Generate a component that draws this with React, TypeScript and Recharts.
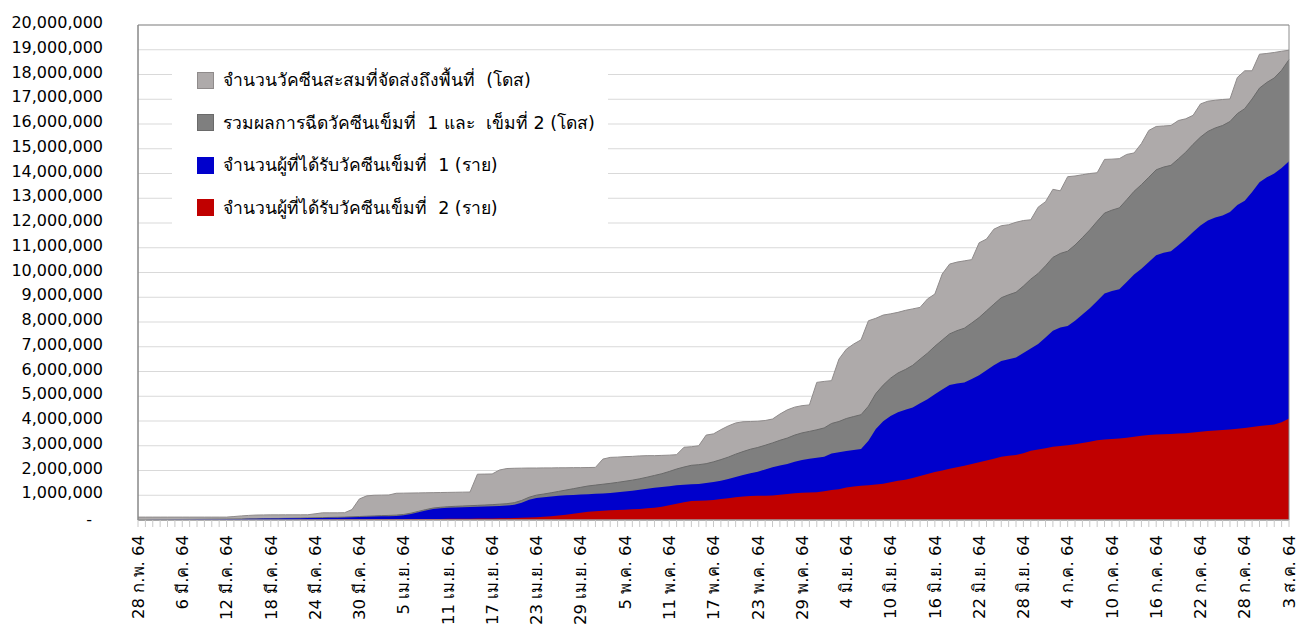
import { AreaChart, Area, XAxis, YAxis, CartesianGrid, Legend, ReferenceArea } from 'recharts'

// วันที่ 28 ก.พ. 64 ถึง 3 ส.ค. 64 (รายวัน)
const months = [
  { name: 'ก.พ.', first: 28, last: 28 },
  { name: 'มี.ค.', first: 1, last: 31 },
  { name: 'เม.ย.', first: 1, last: 30 },
  { name: 'พ.ค.', first: 1, last: 31 },
  { name: 'มิ.ย.', first: 1, last: 30 },
  { name: 'ก.ค.', first: 1, last: 31 },
  { name: 'ส.ค.', first: 1, last: 3 },
]

const dates: string[] = []
months.forEach((m) => {
  for (let d = m.first; d <= m.last; d++) dates.push(`${d} ${m.name} 64`)
})

// ค่าทั้งหมดเป็นหลักพัน (x 1,000)
const deliveredK = [
  117, 117, 117, 117, 117, 117, 117, 117, 117, 117,
  117, 117, 117, 140, 165, 185, 200, 205, 208, 208,
  210, 210, 210, 212, 250, 290, 290, 290, 295, 420,
  850, 975, 1000, 1005, 1010, 1080, 1085, 1090, 1095, 1100,
  1105, 1110, 1115, 1120, 1125, 1130, 1850, 1855, 1860, 2020,
  2080, 2090, 2095, 2100, 2100, 2105, 2105, 2110, 2110, 2115,
  2115, 2120, 2125, 2460, 2530, 2540, 2560, 2570, 2590, 2600,
  2600, 2610, 2620, 2640, 2940, 2960, 3000, 3430, 3480, 3650,
  3800, 3920, 3970, 3980, 3990, 4020, 4080, 4280, 4450, 4560,
  4620, 4650, 5560, 5600, 5630, 6500, 6900, 7110, 7280, 8050,
  8150, 8280, 8330, 8390, 8470, 8530, 8590, 8930, 9130, 9940,
  10340, 10420, 10470, 10520, 11200, 11350, 11750, 11890, 11930, 12030,
  12100, 12130, 12640, 12860, 13360, 13300, 13870, 13900, 13950, 14000,
  14030, 14570, 14580, 14600, 14770, 14830, 15210, 15740, 15900, 15920,
  15940, 16140, 16210, 16350, 16810, 16920, 16960, 16990, 17010, 17880,
  18150, 18150, 18820, 18850, 18890, 18940, 18980,
]

const totalK = [
  1, 3, 6, 10, 14, 18, 22, 25, 27, 30,
  33, 35, 37, 40, 44, 48, 52, 56, 60, 63,
  68, 73, 78, 84, 90, 97, 104, 111, 118, 130,
  142, 154, 166, 178, 185, 197, 224, 276, 348, 420,
  482, 514, 536, 553, 565, 578, 591, 605, 620, 640,
  660, 700, 790, 920, 1005, 1050, 1100, 1155, 1210, 1265,
  1320, 1375, 1410, 1445, 1480, 1520, 1565, 1610, 1665, 1730,
  1800, 1870, 1960, 2060, 2140, 2210, 2235, 2275, 2350, 2440,
  2540, 2660, 2765, 2860, 2930, 3020, 3115, 3220, 3310, 3430,
  3520, 3580, 3645, 3720, 3900, 3980, 4100, 4180, 4255, 4600,
  5110, 5450, 5730, 5940, 6080, 6250, 6500, 6740, 7020, 7270,
  7520, 7650, 7750, 7960, 8180, 8450, 8720, 8980, 9100, 9200,
  9450, 9730, 9960, 10270, 10610, 10770, 10860, 11110, 11410, 11720,
  12070, 12400, 12520, 12610, 12940, 13280, 13550, 13850, 14150, 14260,
  14330, 14590, 14860, 15180, 15470, 15700, 15840, 15940, 16100, 16420,
  16620, 17010, 17450, 17680, 17860, 18170, 18600,
]

const dose1K = [
  1, 3, 6, 10, 14, 18, 22, 25, 27, 30,
  33, 35, 37, 40, 44, 48, 52, 56, 60, 63,
  66, 69, 72, 76, 80, 85, 90, 95, 100, 110,
  120, 130, 140, 150, 155, 165, 190, 240, 310, 380,
  440, 470, 490, 505, 515, 525, 535, 545, 555, 570,
  585, 620, 700, 820, 890, 920, 950, 975, 995, 1015,
  1030, 1045, 1060, 1075, 1090, 1120, 1150, 1180, 1220, 1260,
  1300, 1330, 1360, 1400, 1420, 1440, 1455, 1490, 1540, 1590,
  1660, 1740, 1820, 1890, 1950, 2040, 2130, 2200, 2260, 2350,
  2420, 2470, 2520, 2560, 2690, 2740, 2790, 2830, 2870, 3200,
  3680, 3990, 4200, 4350, 4450, 4550, 4720, 4880, 5080, 5270,
  5450, 5520, 5560, 5700, 5850, 6050, 6250, 6420, 6500, 6570,
  6750, 6930, 7110, 7370, 7650, 7780, 7840, 8050, 8300, 8560,
  8850, 9150, 9250, 9320, 9620, 9920, 10150, 10420, 10700, 10800,
  10860, 11100, 11350, 11640, 11900, 12100, 12220, 12300, 12440, 12730,
  12900, 13250, 13650, 13850, 14000, 14220, 14500,
]

const dose2K = [
  0, 0, 0, 0, 0, 0, 0, 0, 0, 0,
  0, 0, 0, 0, 0, 0, 0, 0, 0, 0,
  2, 4, 6, 8, 10, 12, 14, 16, 18, 20,
  22, 24, 26, 28, 30, 32, 34, 36, 38, 40,
  42, 44, 46, 48, 50, 53, 56, 60, 65, 70,
  75, 80, 90, 100, 115, 130, 150, 180, 215, 250,
  290, 330, 350, 370, 390, 400, 415, 430, 445, 470,
  500, 540, 600, 660, 720, 770, 780, 785, 810, 850,
  880, 920, 945, 970, 980, 980, 985, 1020, 1050, 1080,
  1100, 1110, 1125, 1160, 1210, 1240, 1310, 1350, 1385, 1400,
  1430, 1460, 1530, 1590, 1630, 1700, 1780, 1860, 1940, 2000,
  2070, 2130, 2190, 2260, 2330, 2400, 2470, 2560, 2600, 2630,
  2700, 2800, 2850, 2900, 2960, 2990, 3020, 3060, 3110, 3160,
  3220, 3250, 3270, 3290, 3320, 3360, 3400, 3430, 3450, 3460,
  3470, 3490, 3510, 3540, 3570, 3600, 3620, 3640, 3660, 3690,
  3720, 3760, 3800, 3830, 3860, 3950, 4100,
]

const yTicks = [
  0, 1000000, 2000000, 3000000, 4000000, 5000000, 6000000, 7000000,
  8000000, 9000000, 10000000, 11000000, 12000000, 13000000, 14000000,
  15000000, 16000000, 17000000, 18000000, 19000000, 20000000,
]

const series = [
  { key: 'delivered', name: 'จำนวนวัคซีนสะสมที่จัดส่งถึงพื้นที่  (โดส)', fill: '#AEAAAA', stroke: '#8F8B8B' },
  { key: 'total', name: 'รวมผลการฉีดวัคซีนเข็มที่  1 และ  เข็มที่ 2 (โดส)', fill: '#7F7F7F', stroke: '#6A6A6A' },
  { key: 'dose1', name: 'จำนวนผู้ที่ได้รับวัคซีนเข็มที่  1 (ราย)', fill: '#0000CC', stroke: 'none' },
  { key: 'dose2', name: 'จำนวนผู้ที่ได้รับวัคซีนเข็มที่  2 (ราย)', fill: '#C00000', stroke: 'none' },
]

const data = dates.map((date, i) => ({
  date,
  delivered: deliveredK[i] * 1000,
  total: totalK[i] * 1000,
  dose1: dose1K[i] * 1000,
  dose2: dose2K[i] * 1000,
}))

const FONT = "'DejaVu Sans', Tahoma, sans-serif"

// ป้ายวันที่แนวตั้ง ทุก 6 วัน
function DateTick(props: any) {
  const { x, y, payload, index } = props
  if (index % 6 !== 0) return null
  return (
    <text
      x={x}
      y={y}
      dy="0.35em"
      textAnchor="end"
      transform={`rotate(-90 ${x} ${y})`}
      fontSize={16.5}
      fill="#000"
      fontFamily={FONT}
    >
      {payload.value}
    </text>
  )
}

function ValueTick(props: any) {
  const { x, y, payload } = props
  const zero = payload.value === 0
  return (
    <text
      x={x}
      y={y}
      dx={zero ? -11 : 0}
      dy={zero ? 5 : 3}
      textAnchor="end"
      fontSize={16}
      fill="#000"
      fontFamily={FONT}
    >
      {zero ? '-' : payload.value.toLocaleString('en-US')}
    </text>
  )
}

function LegendBox() {
  return (
    <div
      style={{
        width: 436,
        height: 174,
        background: '#fff',
        paddingTop: 3,
        boxSizing: 'border-box',
        fontFamily: FONT,
      }}
    >
      {series.map((s) => (
        <div key={s.key} style={{ display: 'flex', alignItems: 'center', height: 42.5, paddingLeft: 25 }}>
          <span
            style={{
              width: 15,
              height: 15,
              background: s.fill,
              border: `1px solid ${s.stroke === 'none' ? s.fill : s.stroke}`,
              flex: 'none',
            }}
          />
          <span style={{ marginLeft: 9, fontSize: 17.5, color: '#000', whiteSpace: 'pre' }}>{s.name}</span>
        </div>
      ))}
    </div>
  )
}

export default function App() {
  return (
    <div style={{ position: 'absolute', left: 0, top: 0, width: 1304, height: 628, background: '#fff', fontFamily: FONT }}>
      <AreaChart width={1304} height={628} data={data} margin={{ top: 25, right: 15, bottom: 0, left: 0 }}>
        <CartesianGrid vertical={false} stroke="#D9D9D9" />
        <XAxis
          dataKey="date"
          interval={0}
          height={108}
          tickSize={7}
          tickMargin={8}
          axisLine={{ stroke: '#A6A6A6' }}
          tickLine={{ stroke: '#C8C8C8' }}
          tick={(p: any) => <DateTick {...p} />}
        />
        <YAxis
          domain={[0, 20000000]}
          ticks={yTicks}
          interval={0}
          width={138}
          tickSize={0}
          tickMargin={35}
          tickLine={false}
          axisLine={{ stroke: '#868686' }}
          tick={(p: any) => <ValueTick {...p} />}
        />
        {series.map((s) => (
          <Area
            key={s.key}
            type="linear"
            dataKey={s.key}
            name={s.name}
            fill={s.fill}
            fillOpacity={1}
            stroke={s.stroke}
            strokeWidth={1}
            dot={false}
            activeDot={false}
            isAnimationActive={false}
          />
        ))}
        <ReferenceArea
          x1={dates[0]}
          x2={dates[dates.length - 1]}
          y1={0}
          y2={20000000}
          fill="none"
          stroke="#8C8C8C"
          strokeWidth={1}
        />
        <Legend
          layout="vertical"
          align="center"
          verticalAlign="middle"
          wrapperStyle={{ left: 172, top: 56, width: 436, height: 174 }}
          content={<LegendBox />}
        />
      </AreaChart>
    </div>
  )
}
